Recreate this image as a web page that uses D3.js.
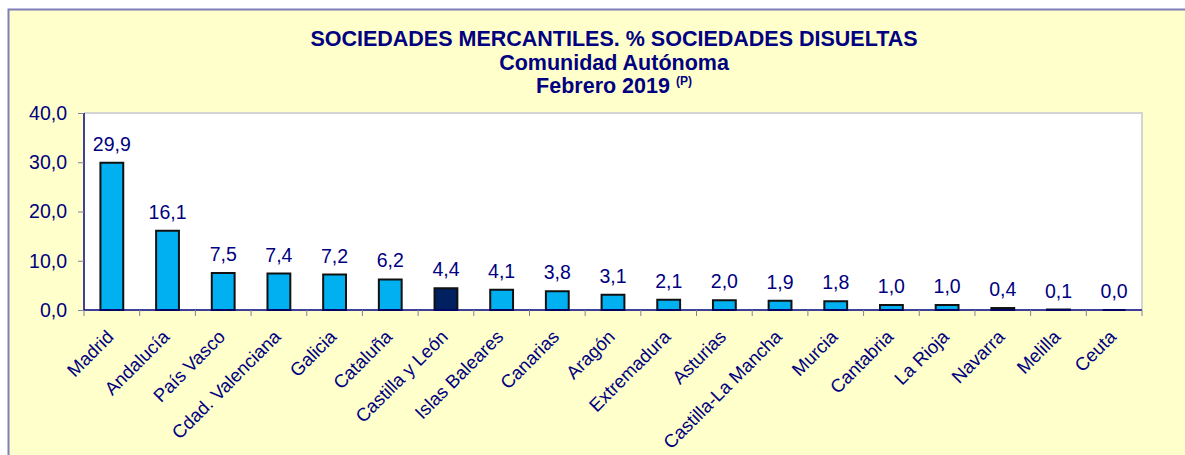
<!DOCTYPE html>
<html>
<head>
<meta charset="utf-8">
<script src="https://cdn.jsdelivr.net/npm/d3@7"></script>
<style>
  html, body { margin: 0; background: #ffffff; overflow: hidden; }
  svg { display: block; }
  svg text { font-family: "Liberation Sans", Arial, sans-serif; }
</style>
</head>
<body>
<div id="chart"></div>
<script>
// datos del gráfico
var regiones = ["Madrid", "Andalucía", "País Vasco", "Cdad. Valenciana", "Galicia", "Cataluña",
  "Castilla y León", "Islas Baleares", "Canarias", "Aragón", "Extremadura", "Asturias",
  "Castilla-La Mancha", "Murcia", "Cantabria", "La Rioja", "Navarra", "Melilla", "Ceuta"];
var porcentajes = [29.9, 16.1, 7.5, 7.4, 7.2, 6.2, 4.4, 4.1, 3.8, 3.1, 2.1, 2.0, 1.9, 1.8, 1.0, 1.0, 0.4, 0.1, 0.0];
var destacada = ["Castilla y León"];
var yTicks = [0, 10, 20, 30, 40];
var titulo = ["SOCIEDADES MERCANTILES. % SOCIEDADES DISUELTAS", "Comunidad Autónoma", "Febrero 2019"];

var W = 1185, H = 455;
var margin = { top: 113, right: 43, bottom: 145, left: 84 },
  width = W - margin.left - margin.right,
  height = H - margin.top - margin.bottom;

var navy = "#000080";
var fmt = function (v) { return v.toFixed(1).replace(".", ","); };

var root = d3.select("#chart")
  .append("svg")
  .attr("width", W)
  .attr("height", H);

// fondo amarillo con borde
root.append("rect")
  .attr("x", 8.5).attr("y", 9.5)
  .attr("width", W + 20).attr("height", H + 20)
  .attr("fill", "#ffffcc")
  .attr("stroke", "#7f7fb8")
  .attr("stroke-width", 2);

// titulo
var t = root.append("text")
  .attr("x", 614)
  .attr("y", 46)
  .attr("text-anchor", "middle")
  .style("font-size", "21.5px")
  .style("font-weight", "bold")
  .style("fill", navy);
t.append("tspan").attr("x", 614).attr("y", 46).text(titulo[0]);
t.append("tspan").attr("x", 614).attr("y", 70).text(titulo[1]);
t.append("tspan").attr("x", 614).attr("y", 93).text(titulo[2] + " ");
t.append("tspan").attr("dy", -8).style("font-size", "12px").text("(P)");

var svg = root.append("g")
  .attr("transform", "translate(" + margin.left + "," + margin.top + ")");

// area del grafico
svg.append("rect")
  .attr("width", width).attr("height", height)
  .attr("fill", "#ffffff");
svg.append("path")
  .attr("d", "M0,0H" + width + "V" + height)
  .attr("fill", "none")
  .attr("stroke", "#d4d4d4")
  .attr("stroke-width", 2);

var x = d3.scaleBand()
  .domain(regiones)
  .range([0, width])
  .paddingInner(0.59)
  .paddingOuter(0.295);

var y = d3.scaleLinear()
  .domain([0, 40])
  .range([height, 0]);

// barras (path para que la barra de 0 se vea como linea)
svg.selectAll(".bar")
  .data(regiones)
  .enter()
  .append("path")
  .attr("d", function (d, i) {
    var x0 = x(d), y0 = y(porcentajes[i]);
    return "M" + x0 + "," + y(0) + "V" + y0 + "H" + (x0 + x.bandwidth()) + "V" + y(0) + "Z";
  })
  .attr("fill", function (d) { return destacada.indexOf(d) >= 0 ? "#002060" : "#00b0f0"; })
  .attr("stroke", "#111111")
  .attr("stroke-width", 2);

// etiquetas de valor
svg.selectAll(".val")
  .data(regiones)
  .enter()
  .append("text")
  .attr("x", function (d) { return x(d) + x.bandwidth() / 2; })
  .attr("y", function (d, i) { return y(porcentajes[i]) - 12; })
  .attr("text-anchor", "middle")
  .style("font-size", "19.5px")
  .style("fill", navy)
  .text(function (d, i) { return fmt(porcentajes[i]); });

// eje Y
var yAxis = svg.append("g")
  .call(d3.axisLeft(y).tickValues(yTicks).tickSize(6).tickPadding(11).tickFormat(fmt));
yAxis.select(".domain").attr("stroke", navy).attr("stroke-width", 1.5).attr("d", "M0," + height + "V0");
yAxis.selectAll(".tick line").attr("stroke", "#8080a0");
yAxis.selectAll(".tick text")
  .style("font-size", "19.5px")
  .style("font-family", "Liberation Sans, Arial, sans-serif")
  .attr("fill", navy);

// eje X
var step = x.step();
var x0 = x(regiones[0]) - step * x.paddingOuter();
var xAxis = svg.append("g")
  .attr("transform", "translate(0," + height + ")");
xAxis.append("line")
  .attr("x1", 0).attr("x2", width)
  .attr("stroke", navy).attr("stroke-width", 1.5);
xAxis.selectAll(".tk")
  .data(d3.range(regiones.length + 1))
  .enter()
  .append("line")
  .attr("x1", function (i) { return x0 + i * step; })
  .attr("x2", function (i) { return x0 + i * step; })
  .attr("y1", 0).attr("y2", 6)
  .attr("stroke", "#8080a0");

xAxis.selectAll(".lbl")
  .data(regiones)
  .enter()
  .append("text")
  .attr("transform", function (d) {
    return "translate(" + (x(d) + x.bandwidth() / 2 + 3) + ",28) rotate(-45)";
  })
  .attr("text-anchor", "end")
  .style("font-size", "18.5px")
  .style("fill", navy)
  .text(function (d) { return d; });
</script>
</body>
</html>
